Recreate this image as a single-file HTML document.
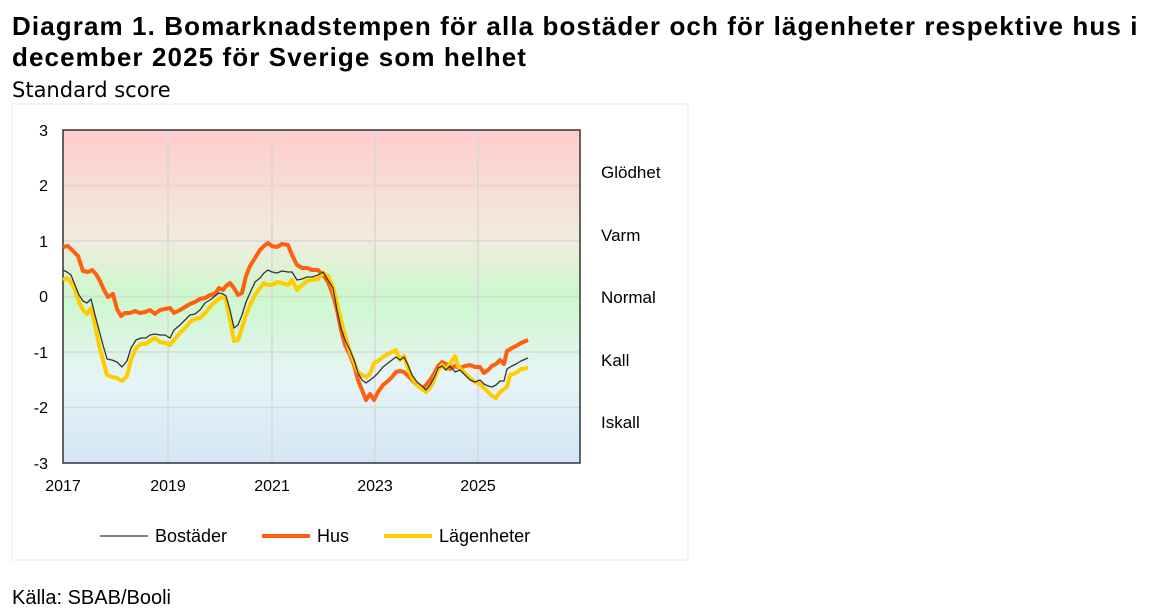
<!DOCTYPE html>
<html><head><meta charset="utf-8"><style>
body{margin:0;background:#fff;width:1171px;height:613px;overflow:hidden;font-family:"Liberation Sans",Arial,sans-serif;}
.t{position:absolute;left:12px;top:11px;font-weight:bold;font-size:26px;letter-spacing:1.1px;line-height:31px;color:#000;white-space:nowrap}
.s{position:absolute;left:12px;top:78px;font-size:21px;color:#000;font-family:"DejaVu Sans","Liberation Sans",sans-serif}
.k{position:absolute;left:12px;top:587px;font-size:20px;color:#000}
</style></head><body>
<div class="t">Diagram 1. Bomarknadstempen för alla bostäder och för lägenheter respektive hus i<br>december 2025 för Sverige som helhet</div>
<div class="s">Standard score</div>
<svg style="position:absolute;left:0;top:0" width="1171" height="613">
<defs><linearGradient id="g" x1="0" y1="0" x2="0" y2="1">
<stop offset="0" stop-color="#ffcccc"/><stop offset="0.33" stop-color="#f0ecde"/><stop offset="0.5" stop-color="#ccf8cc"/><stop offset="0.75" stop-color="#e6f4f6"/><stop offset="1" stop-color="#d4e6f6"/></linearGradient></defs>
<rect x="12" y="104" width="676" height="456" fill="none" stroke="#e8e8e8"/>
<rect x="63" y="130" width="517" height="333" fill="url(#g)"/>
<g stroke="#d8d8d8" stroke-width="1.5">
<line x1="63" y1="185.5" x2="580" y2="185.5"/><line x1="63" y1="241" x2="580" y2="241"/><line x1="63" y1="296.5" x2="580" y2="296.5"/><line x1="63" y1="352" x2="580" y2="352"/><line x1="63" y1="407.5" x2="580" y2="407.5"/>
<line x1="168" y1="130" x2="168" y2="463"/><line x1="272" y1="130" x2="272" y2="463"/><line x1="375" y1="130" x2="375" y2="463"/><line x1="478" y1="130" x2="478" y2="463"/></g>
<rect x="63" y="130" width="517" height="333" fill="none" stroke="#333" stroke-width="1.5"/>
<g font-size="16" fill="#000" text-anchor="end">
<text x="48" y="136">3</text><text x="48" y="191">2</text><text x="48" y="247">1</text><text x="48" y="302">0</text><text x="48" y="358">-1</text><text x="48" y="413">-2</text><text x="48" y="469">-3</text></g>
<g font-size="16" fill="#000" text-anchor="middle">
<text x="63" y="491">2017</text><text x="168" y="491">2019</text><text x="272" y="491">2021</text><text x="375" y="491">2023</text><text x="478" y="491">2025</text></g>
<g font-size="17" fill="#000">
<text x="601" y="178">Glödhet</text><text x="601" y="241">Varm</text><text x="601" y="303">Normal</text><text x="601" y="366">Kall</text><text x="601" y="428">Iskall</text></g>
<polyline fill="none" stroke="#ff6010" stroke-width="4" stroke-linejoin="round" points="63,247 68,246 73,251 78,256 83,271 88,272 92,270 96,274 100,281 104,290 108,297 113,294 117,309 121,316 125,313 130,313 135,311 140,313 145,312 150,310 155,314 160,310 165,309 170,308 174,313 180,310 185,307 190,304 195,302 200,299 205,298 210,295 215,294 219,288 223,290 226,286 230,283 234,288 238,295 242,293 246,276 250,266 255,258 260,250 264,246 268,243 272,246 277,247 282,244 288,245 292,255 297,265 302,268 307,268 312,270 318,270 323,275 328,282 333,295 337,310 341,330 345,345 350,355 354,365 358,380 362,390 366,400 370,394 374,400 378,392 383,385 388,381 392,377 396,372 400,371 404,372 408,376 412,380 417,385 422,389 426,385 430,380 434,374 438,366 442,362 446,364 450,369 455,366 460,368 465,366 470,365 475,367 480,367 484,373 488,370 492,366 496,364 500,360 504,364 507,351 512,348 516,346 521,343 528,340"/>
<polyline fill="none" stroke="#ffcc00" stroke-width="4" stroke-linejoin="round" points="63,280 67,278 71,282 75,290 79,302 83,310 87,314 91,308 95,325 99,345 103,360 107,375 112,377 117,378 122,381 127,376 131,360 136,348 141,344 146,344 150,341 155,338 160,342 165,343 170,345 174,340 180,333 185,328 190,322 195,319 200,318 205,313 210,307 215,302 219,299 223,297 226,300 230,320 234,341 238,340 242,328 246,315 250,305 255,295 260,288 264,283 268,285 272,285 277,282 282,283 288,285 292,280 297,290 302,285 307,281 312,280 318,279 323,273 328,276 333,287 337,303 341,320 345,335 350,352 354,362 358,372 362,375 366,377 370,374 374,363 378,361 383,357 388,354 392,352 396,350 400,360 404,356 408,368 412,378 417,385 422,389 426,392 430,388 434,380 438,370 442,365 446,369 450,364 455,356 458,366 462,370 466,374 470,378 475,382 480,384 484,388 488,392 492,396 496,398 500,392 504,389 507,387 510,375 516,373 521,369 528,368"/>
<polyline fill="none" stroke="#333" stroke-width="1.3" stroke-linejoin="round" points="63,270 67,272 71,275 75,285 79,295 83,301 87,303 91,299 95,315 99,330 103,345 107,359 112,360 117,362 122,367 127,361 131,348 136,340 141,338 146,338 150,335 155,334 160,335 165,335 170,338 174,330 180,325 185,320 190,315 195,314 200,310 205,303 210,300 215,296 219,293 223,294 226,296 230,310 234,328 238,325 242,315 246,302 250,293 255,282 260,278 264,273 268,270 272,272 277,273 282,271 288,272 292,272 297,280 302,279 307,277 312,277 318,275 323,272 328,280 333,288 337,310 341,328 345,340 350,350 354,360 358,373 362,380 366,383 370,380 374,377 378,373 383,367 388,363 392,360 396,357 400,360 404,357 408,365 412,375 417,382 422,386 426,390 430,385 434,378 438,368 442,366 446,370 450,366 455,372 460,370 465,375 470,380 475,382 480,380 484,384 488,386 492,387 496,385 500,381 504,381 507,369 512,366 516,364 521,361 528,358"/>
<line x1="100" y1="536" x2="148" y2="536" stroke="#333" stroke-width="1.3"/>
<line x1="262" y1="536" x2="310" y2="536" stroke="#ff6010" stroke-width="4"/>
<line x1="384" y1="536" x2="432" y2="536" stroke="#ffcc00" stroke-width="4"/>
<g font-size="18" fill="#000"><text x="155" y="542">Bostäder</text><text x="317" y="542">Hus</text><text x="439" y="542">Lägenheter</text></g>
</svg>
<div class="k">Källa: SBAB/Booli</div>
</body></html>
